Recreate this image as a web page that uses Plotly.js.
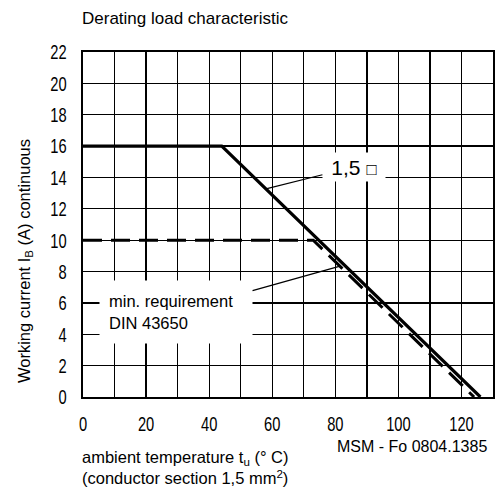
<!DOCTYPE html>
<html>
<head>
<meta charset="utf-8">
<script src="https://cdn.plot.ly/plotly-3.0.1.min.js"></script>
<style>html,body{margin:0;padding:0;background:#fff;}#chart{width:502px;height:488px;}</style>
</head>
<body>
<div id="chart"></div>
<script>
// Data
const ratedTemp = [0, 44, 126];        // ambient temperature (°C), 1,5 mm² curve
const ratedCurrent = [16, 16, 0];      // working current (A)
const minTemp = [0, 73, 124];          // min. requirement DIN 43650
const minCurrent = [10, 10, 0];
const xTickVals = [0, 20, 40, 60, 80, 100, 120];
const yTickVals = [0, 2, 4, 6, 8, 10, 12, 14, 16, 18, 20, 22];

const sans = "'Liberation Sans', Arial, Helvetica, sans-serif";

const traces = [
  {x: ratedTemp, y: ratedCurrent, mode: 'lines', line: {color: '#000', width: 3.2}, hoverinfo: 'skip', cliponaxis: false},
  {x: minTemp, y: minCurrent, mode: 'lines', line: {color: '#000', width: 3, dash: '19px,9px'}, hoverinfo: 'skip', cliponaxis: false}
];

const layout = {
  width: 502, height: 488,
  margin: {l: 83, r: 9, t: 52, b: 91},
  paper_bgcolor: '#fff', plot_bgcolor: '#fff',
  showlegend: false,
  xaxis: {
    range: [0, 130], tickvals: xTickVals, ticktext: xTickVals.map(String),
    showgrid: true, gridcolor: '#000', gridwidth: 1.3,
    minor: {dtick: 10, tick0: 0, showgrid: true, gridcolor: '#000', gridwidth: 1.3},
    showline: true, linecolor: '#000', linewidth: 2.2, mirror: true,
    zeroline: false, ticks: '', ticklabelstandoff: 7,
    tickfont: {family: sans, size: 21, color: '#000'}
  },
  yaxis: {
    range: [0, 22], tickvals: yTickVals, ticktext: yTickVals.map(String),
    showgrid: true, gridcolor: '#000', gridwidth: 1.3,
    showline: true, linecolor: '#000', linewidth: 2.2, mirror: true,
    zeroline: false, ticks: '', ticklabelstandoff: 10,
    tickfont: {family: sans, size: 21, color: '#000'}
  },
  annotations: [
    {xref: 'paper', yref: 'paper', x: (80-83)/410, y: (397-18)/345, xanchor: 'left', yanchor: 'middle',
     showarrow: false, text: 'Derating load characteristic', font: {family: sans, size: 17, color: '#000'}},
    {xref: 'paper', yref: 'paper', x: (25-83)/410, y: (397-261)/345, xanchor: 'center', yanchor: 'middle',
     textangle: -90, showarrow: false, text: 'Working current I<sub>B</sub> (A) continuous',
     font: {family: sans, size: 16.5, color: '#000'}},
    {xref: 'paper', yref: 'paper', x: (80-83)/410, y: (397-446)/345, xanchor: 'left', yanchor: 'top', align: 'left',
     showarrow: false, text: 'ambient temperature t<sub>u</sub> (° C)<br>(conductor section 1,5 mm<sup>2</sup>)',
     font: {family: sans, size: 16.5, color: '#000'}},
    {xref: 'paper', yref: 'paper', x: (489-83)/410, y: (397-446)/345, xanchor: 'right', yanchor: 'middle',
     showarrow: false, text: 'MSM - Fo 0804.1385', font: {family: sans, size: 16, color: '#000'}},
    {xref: 'x', yref: 'y', x: 58, y: 13.27, ax: 88, ay: -22, showarrow: true, arrowhead: 0, arrowwidth: 1.2,
     arrowcolor: '#000', standoff: 0, text: '1,5 <span style="font-size:17px">□</span>', bgcolor: '#fff',
     width: 58, height: 24, borderpad: 2, font: {family: sans, size: 21, color: '#000'}},
    {xref: 'x', yref: 'y', x: 81.5, y: 8.35, ax: -164, ay: 46, showarrow: true, arrowhead: 0, arrowwidth: 1.2,
     arrowcolor: '#000', standoff: 0, text: 'min. requirement<br>DIN 43650', align: 'left', bgcolor: '#fff',
     width: 134, height: 44, borderpad: 9, font: {family: sans, size: 16.5, color: '#000'}}
  ]
};

Plotly.newPlot('chart', traces, layout, {staticPlot: true, displayModeBar: false}).then(function (gd) {
  // condense the DIN-style numerals horizontally, as in the reference
  const els = gd.querySelectorAll('.xtick text, .ytick text');
  els.forEach(function (t) {
    const w = t.getComputedTextLength();
    if (w > 0) {
      t.setAttribute('textLength', (w * 0.7).toFixed(2));
      t.setAttribute('lengthAdjust', 'spacingAndGlyphs');
    }
  });
});
</script>
</body>
</html>
